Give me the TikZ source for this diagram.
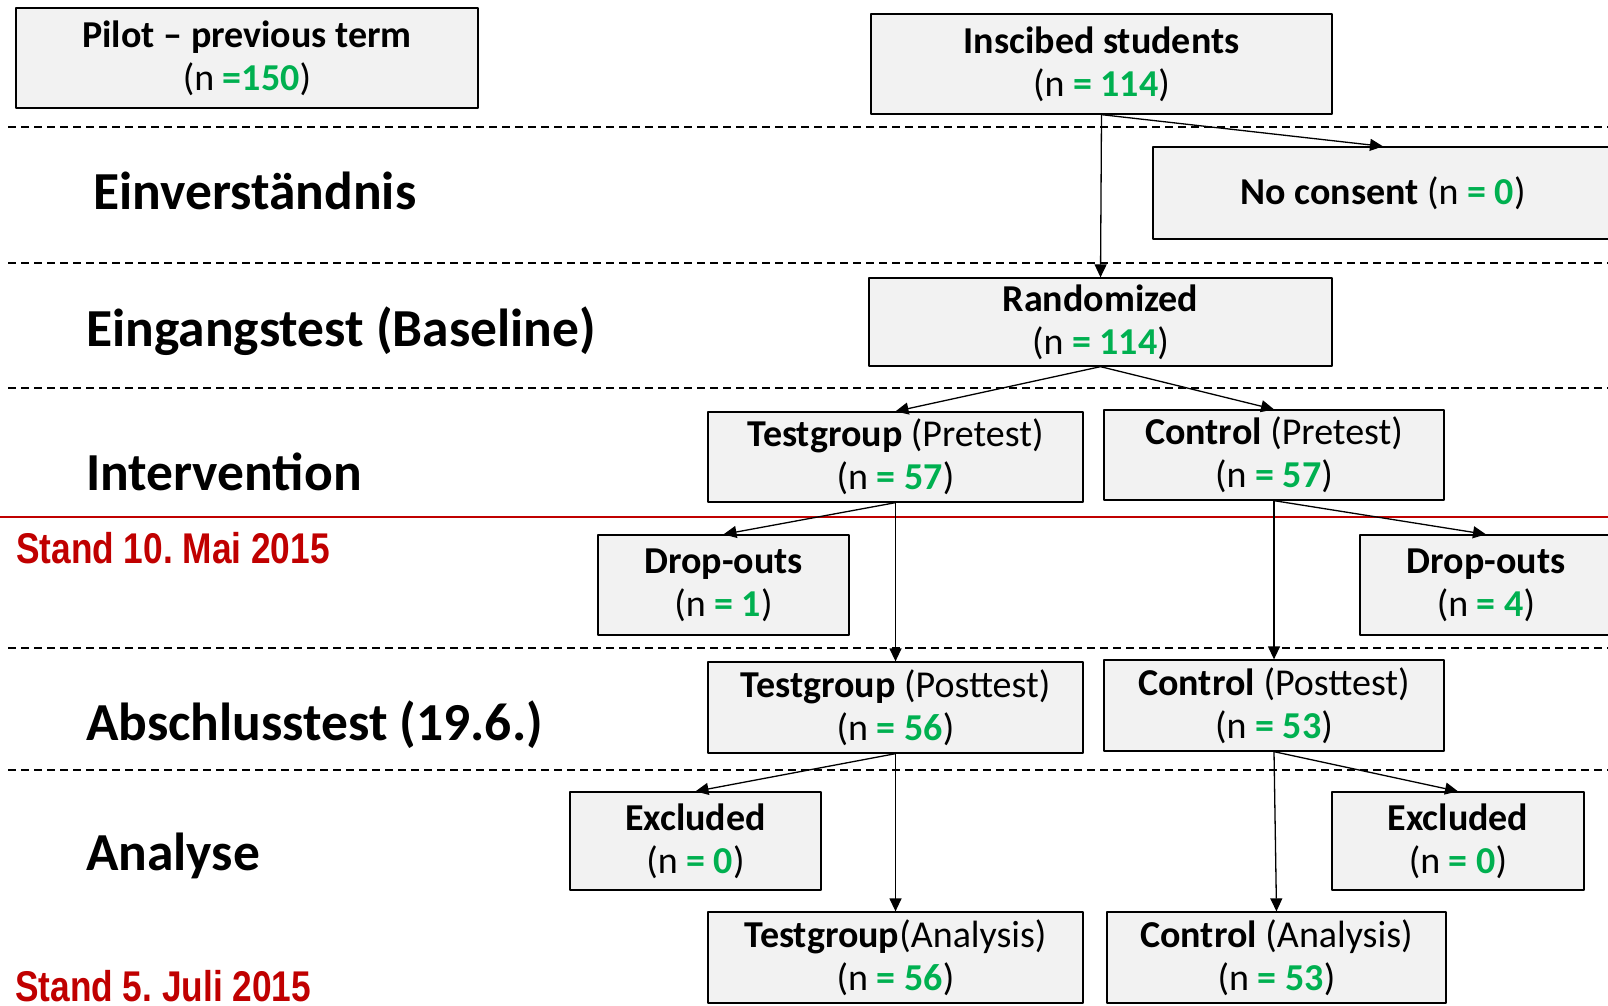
\documentclass[tikz,border=0pt]{standalone}
\usepackage{fontspec}
\setmainfont{Carlito}
\newfontfamily\standfont[FakeStretch=0.82]{Liberation Sans}
\usetikzlibrary{arrows.meta}
\definecolor{boxfill}{HTML}{F2F2F2}
\definecolor{cntgreen}{HTML}{00B050}
\definecolor{standred}{HTML}{C00000}
\newcommand{\cnt}[1]{\textcolor{cntgreen}{\textbf{#1}}}
\frenchspacing

\begin{document}
\begin{tikzpicture}[x=1pt,y=-1pt,line join=round,
  box/.style={draw,line width=1.3pt,fill=boxfill,align=center,inner sep=0pt,font=\fontsize{38}{43}\selectfont},
  phase/.style={anchor=base west,inner sep=0pt,font=\fontsize{53.5}{60}\selectfont\bfseries},
  stand/.style={anchor=base west,inner sep=0pt,text=standred,font=\fontsize{43}{50}\selectfont\standfont\bfseries},
  sep/.style={dash pattern=on 8pt off 5pt,line width=1.3pt},
  flow/.style={-{Triangle[length=13pt,width=12pt]},line width=1.3pt}]
\useasboundingbox (0,0) rectangle (1608,1005);
% phase separators
\foreach \y in {127,263,388,648,770}
  \draw[sep] (8,\y) -- (1608,\y);
\draw[standred,line width=2pt] (0,517) -- (1608,517);
% phase labels
\node[phase] (lconsent) at (93,209) {Einverständnis};
\node[phase] (lbase) at (86,346) {Eingangstest (Baseline)};
\node[phase] (linter) at (86,490) {Intervention};
\node[phase] (lfinal) at (86,740) {Abschlusstest (19.6.)};
\node[phase] (lana) at (86,870) {Analyse};
\node[stand] (stmay) at (16,563) {Stand 10. Mai 2015};
\node[stand] (stjul) at (15,1001) {Stand 5. Juli 2015};
% boxes
\node[box,minimum width=462pt,minimum height=100pt] (pilot) at (247,58) {\textbf{Pilot -- previous term}\\(n \cnt{=150})};
\node[box,minimum width=461pt,minimum height=100pt] (insc) at (1101.5,64) {\textbf{Inscibed students}\\(n \cnt{= 114})};
\node[box,minimum width=460pt,minimum height=92pt] (nocons) at (1383,193) {\textbf{No consent} (n \cnt{= 0})};
\node[box,minimum width=463pt,minimum height=88pt] (rand) at (1100.5,322) {\textbf{Randomized}\\(n \cnt{= 114})};
\node[box,minimum width=375pt,minimum height=90pt] (tpre) at (895.5,457) {\textbf{Testgroup} (Pretest)\\(n \cnt{= 57})};
\node[box,minimum width=340pt,minimum height=90pt] (cpre) at (1274,455) {\textbf{Control} (Pretest)\\(n \cnt{= 57})};
\node[box,minimum width=251pt,minimum height=100pt] (dropl) at (723.5,585) {\textbf{Drop-outs}\\(n \cnt{= 1})};
\node[box,minimum width=252pt,minimum height=100pt] (dropr) at (1486,585) {\textbf{Drop-outs}\\(n \cnt{= 4})};
\node[box,minimum width=375pt,minimum height=91pt] (tpost) at (895.5,707.5) {\textbf{Testgroup} (Posttest)\\(n \cnt{= 56})};
\node[box,minimum width=340pt,minimum height=91pt] (cpost) at (1274,705.5) {\textbf{Control} (Posttest)\\(n \cnt{= 53})};
\node[box,minimum width=251pt,minimum height=98pt] (exl) at (695.5,841) {\textbf{Excluded}\\(n \cnt{= 0})};
\node[box,minimum width=252pt,minimum height=98pt] (exr) at (1458,841) {\textbf{Excluded}\\(n \cnt{= 0})};
\node[box,minimum width=375pt,minimum height=91pt] (tana) at (895.5,957.5) {\textbf{Testgroup}(Analysis)\\(n \cnt{= 56})};
\node[box,minimum width=339pt,minimum height=91pt] (cana) at (1276.5,957.5) {\textbf{Control} (Analysis)\\(n \cnt{= 53})};
% flow
\draw[flow] (insc.south) -- (rand.north);
\draw[flow] (insc.south) -- (nocons.north);
\draw[flow] (rand.south) -- (tpre.north);
\draw[flow] (rand.south) -- (cpre.north);
\draw[flow] (tpre.south) -- (dropl.north);
\draw[flow] (tpre.south) -- (tpost.north);
\draw[flow] (cpre.south) -- (dropr.north);
\draw[flow] (cpre.south) -- (cpost.north);
\draw[flow] (tpost.south) -- (exl.north);
\draw[flow] (tpost.south) -- (tana.north);
\draw[flow] (cpost.south) -- (exr.north);
\draw[flow] (cpost.south) -- (cana.north);
\end{tikzpicture}
\end{document}
